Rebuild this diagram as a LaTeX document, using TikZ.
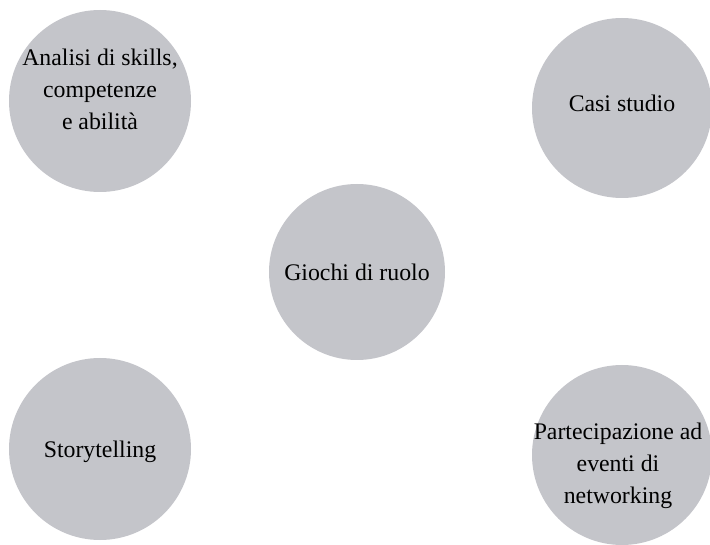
\documentclass[tikz,border=0pt]{standalone}
\usepackage{fontspec}
\setmainfont{Liberation Serif}
\usetikzlibrary{positioning}
\definecolor{bubblegray}{RGB}{196,197,202}

\begin{document}
\begin{tikzpicture}[x=1pt,y=1pt,
   bubble/.style={circle,fill=bubblegray,inner sep=0pt,minimum size=180pt},
   txt/.style={align=center,inner sep=0pt,font=\fontsize{23.8}{32}\selectfont}]
   \useasboundingbox (0,0) rectangle (710,544);
   % the five circles
   \node[bubble,minimum size=182pt] (skills) at (100,443) {};
   \node[bubble] (casi) at (622,436) {};
   \node[bubble,minimum size=176pt] (giochi) at (357,272) {};
   \node[bubble,minimum size=182pt] (story) at (100,95) {};
   \node[bubble] (eventi) at (622,89) {};
   % their texts
   \node[txt] (skillstxt) at ([yshift=12pt]skills.center) {Analisi di skills,\\competenze\hspace{6pt}\\e abilità};
   \node[txt] (casitxt) at ([yshift=5pt]casi.center) {Casi studio};
   \node[txt] (giochitxt) at (giochi.center) {Giochi di ruolo};
   \node[txt] (storytxt) at ([yshift=-3pt]story.center) {Storytelling};
   \node[txt] (eventitxt) at ([xshift=-4pt,yshift=-11pt]eventi.center) {Partecipazione ad\\eventi di\\networking};
\end{tikzpicture}
\end{document}
